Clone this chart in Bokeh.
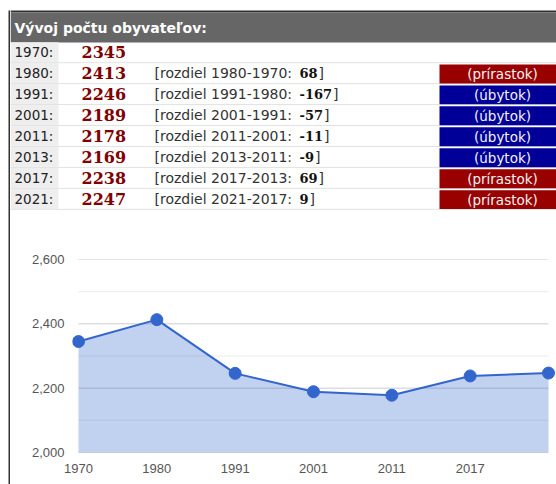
from bokeh.plotting import figure
from bokeh.layouts import row, column
from bokeh.models import Range1d, FixedTicker, NumeralTickFormatter
from bokeh.core.properties import value
from bokeh.embed import file_html
from bokeh.resources import INLINE

# ---------------- data ----------------
title_text = "Vývoj počtu obyvateľov:"
table_years = ["1970", "1980", "1991", "2001", "2011", "2013", "2017", "2021"]
table_population = [2345, 2413, 2246, 2189, 2178, 2169, 2238, 2247]
diff_values = [None, 68, -167, -57, -11, -9, 69, 9]
badge_up = "(prírastok)"
badge_down = "(úbytok)"

chart_years = ["1970", "1980", "1991", "2001", "2011", "2017", "2021"]
chart_population = [2345, 2413, 2246, 2189, 2178, 2238, 2247]
x_tick_labels = ["1970", "1980", "1991", "2001", "2011", "2017"]
y_ticks = [2000, 2200, 2400, 2600]
y_minor_ticks = [2100, 2300, 2500]

# ---------------- layout constants ----------------
TOTAL_W = 556
TOTAL_H = 484
STRIP_W = 10
W = TOTAL_W - STRIP_W
TOP_H = 212
CHART_H = TOTAL_H - TOP_H
ROW_PX = 20.95
ROW0_PX = 51.7


def py(px):
    return (px - ROW0_PX) / ROW_PX


def no_align(fig):
    try:
        fig.frame_align = False
    except Exception:
        pass


# ---------------- left border strip ----------------
strip = figure(width=STRIP_W, height=TOTAL_H, output_backend="svg", toolbar_location=None,
               x_axis_location=None, y_axis_location=None, min_border=0,
               outline_line_color=None, border_fill_color="white", background_fill_color="white",
               x_range=Range1d(0, STRIP_W), y_range=Range1d(TOTAL_H, 0))
strip.grid.visible = False
strip.quad(left=[8], right=[10], bottom=[TOTAL_H], top=[10], fill_color="#333333", line_color=None)
no_align(strip)

# ---------------- table ----------------
top = figure(width=W, height=TOP_H, output_backend="svg", toolbar_location=None,
             x_range=Range1d(0, W), y_range=Range1d(py(TOP_H), py(0)),
             x_axis_location=None, y_axis_location=None, min_border=0,
             outline_line_color=None, background_fill_color="white", border_fill_color="white")
top.grid.visible = False
no_align(top)

top.quad(left=[0], right=[W], top=[py(10)], bottom=[py(12)], fill_color="#333333", line_color=None)
top.quad(left=[0], right=[W], top=[py(12)], bottom=[py(42)], fill_color="#666666", line_color=None)
top.text(x=[4], y=[py(27)], text=[title_text], text_color="white", text_font=value("DejaVu Sans"),
         text_font_style="bold", text_font_size="14px", text_baseline="middle", text_align="left")

idx = list(range(len(table_years)))
top.quad(left=0, right=48, top=[i - 0.47 for i in idx], bottom=[i + 0.47 for i in idx],
         fill_color="#eeeeee", line_color=None)
top.segment(x0=0, x1=W, y0=[i + 0.5 for i in idx], y1=[i + 0.5 for i in idx],
            line_color="#c4c4c4", line_dash="1 1", line_width=1)
top.text(x=4, y=idx, text=[y + ":" for y in table_years], text_color="#222222",
         text_font=value("DejaVu Sans"), text_font_size="13.5px", text_baseline="middle")
top.text(x=71, y=idx, text=[str(v) for v in table_population], text_color="#800000",
         text_font=value("DejaVu Serif"), text_font_style="bold", text_font_size="16px",
         text_baseline="middle")

d_idx = [i for i in idx if diff_values[i] is not None]
prefix = ["[rozdiel %s-%s: " % (table_years[i], table_years[i - 1]) for i in d_idx]
vals = [str(diff_values[i]) for i in d_idx]
VAL_X = 289


def bold_width(s, size=13):
    w = 0
    for ch in s:
        w += 0.415 if ch == "-" else 0.696
    return w * size


top.text(x=144, y=d_idx, text=prefix, text_color="#333333", text_font=value("DejaVu Sans"),
         text_font_size="14px", text_baseline="middle")
top.text(x=VAL_X, y=d_idx, text=vals, text_color="#111111", text_font=value("DejaVu Serif"),
         text_font_style="bold", text_font_size="13px", text_baseline="middle")
top.text(x=[VAL_X + bold_width(v) + 1 for v in vals], y=d_idx, text=["]"] * len(vals),
         text_color="#333333", text_font=value("DejaVu Sans"), text_font_size="14px",
         text_baseline="middle")

badge_colors = ["#990000" if diff_values[i] > 0 else "#000099" for i in d_idx]
badge_texts = [badge_up if diff_values[i] > 0 else badge_down for i in d_idx]
top.quad(left=429, right=W, top=[i - 0.415 for i in d_idx], bottom=[i + 0.49 for i in d_idx],
         fill_color=badge_colors, line_color=None)
top.text(x=492, y=[i + 0.04 for i in d_idx], text=badge_texts, text_color="#f4f4f4",
         text_font=value("DejaVu Sans"), text_font_size="13.5px", text_baseline="middle",
         text_align="center")

# ---------------- chart ----------------
x_idx = list(range(len(chart_years)))
x_last = len(chart_years) - 1
px_per = 470 / x_last
LEFT_BORDER = 62
PAD = 6  # room so the first marker is not clipped
FRAME_W = W - LEFT_BORDER
chart = figure(width=W, height=CHART_H, output_backend="svg", toolbar_location=None,
               x_range=Range1d(-PAD / px_per, (FRAME_W - PAD) / px_per),
               y_range=Range1d(y_ticks[0], y_ticks[-1]),
               min_border_left=LEFT_BORDER, min_border_right=0, min_border_top=47,
               min_border_bottom=32, outline_line_color=None,
               background_fill_color="white", border_fill_color="white")
no_align(chart)
chart.grid.visible = False

# gridlines limited to the data span (like the original chart)
chart.segment(x0=0, x1=x_last, y0=y_minor_ticks, y1=y_minor_ticks, line_color="#ebebeb",
              line_width=1, level="underlay")
chart.segment(x0=0, x1=x_last, y0=y_ticks[1:], y1=y_ticks[1:], line_color="#cccccc",
              line_width=1, level="underlay")

base = chart.y_range.start
chart.varea(x=x_idx, y1=[base] * len(x_idx), y2=chart_population, fill_color="#3366cc",
            fill_alpha=0.3)
chart.segment(x0=[0], x1=[x_last], y0=[base], y1=[base], line_color="#9aa3b8", line_width=1)
chart.line(x=x_idx, y=chart_population, line_color="#3366cc", line_width=2)
chart.scatter(x=x_idx, y=chart_population, size=12, fill_color="#3366cc", line_color="#3366cc")

yt = FixedTicker(ticks=y_ticks, minor_ticks=y_minor_ticks)
chart.yaxis.ticker = yt
chart.yaxis.formatter = NumeralTickFormatter(format="0,0")
chart.yaxis.axis_line_color = None
chart.yaxis.major_tick_line_color = None
chart.yaxis.minor_tick_line_color = None
chart.yaxis.major_tick_out = 0
chart.yaxis.minor_tick_out = 0
chart.yaxis.major_label_standoff = 14 - PAD

chart.xaxis.ticker = FixedTicker(ticks=list(range(len(x_tick_labels))))
chart.xaxis.major_label_overrides = {i: lab for i, lab in enumerate(x_tick_labels)}
chart.xaxis.axis_line_color = None
chart.xaxis.major_tick_line_color = None
chart.xaxis.minor_tick_line_color = None
chart.xaxis.major_tick_out = 0
chart.xaxis.minor_tick_out = 0
chart.xaxis.major_label_standoff = 11

for ax in (chart.xaxis, chart.yaxis):
    ax.major_label_text_font = "Liberation Sans"
    ax.major_label_text_font_size = "13px"
    ax.major_label_text_color = "#555555"

layout = row(strip, column(top, chart))
open("out.html", "w").write(file_html(layout, INLINE))
